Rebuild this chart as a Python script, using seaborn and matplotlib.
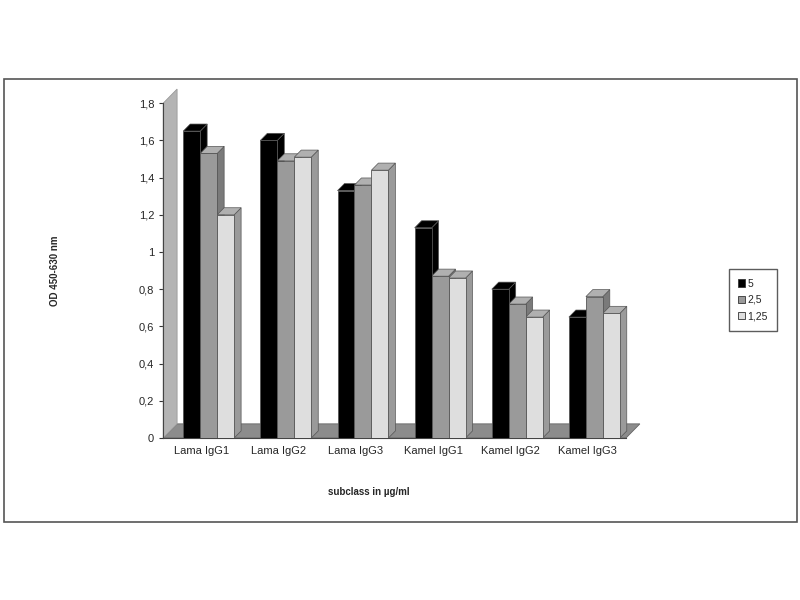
import pandas as pd
import matplotlib
matplotlib.use('Agg')
import matplotlib.pyplot as plt
import seaborn as sns
from matplotlib.patches import Polygon, Rectangle
from matplotlib.ticker import FuncFormatter

# Data
subclasses = ['Lama IgG1', 'Lama IgG2', 'Lama IgG3', 'Kamel IgG1', 'Kamel IgG2', 'Kamel IgG3']
concentrations = ['5', '2,5', '1,25']
od_5 = [1.65, 1.60, 1.33, 1.13, 0.80, 0.65]
od_2_5 = [1.53, 1.49, 1.36, 0.87, 0.72, 0.76]
od_1_25 = [1.20, 1.51, 1.44, 0.86, 0.65, 0.67]

colors = ['#000000', '#9a9a9a', '#dedede']
side_colors = ['#000000', '#7a7a7a', '#9a9a9a']

rows = []
for conc, vals in zip(concentrations, [od_5, od_2_5, od_1_25]):
    for s, v in zip(subclasses, vals):
        rows.append({'subclass': s, 'conc': conc, 'OD': v})
df = pd.DataFrame(rows)

sns.set_style('white')
plt.rcParams['font.family'] = ['Liberation Sans', 'DejaVu Sans']

fig = plt.figure(figsize=(8, 6), dpi=100)
ax = fig.add_axes([0.204, 0.27, 0.5785, 0.558])

sns.barplot(data=df, x='subclass', y='OD', hue='conc', palette=colors,
            width=0.66, edgecolor='#555555', linewidth=0.6, legend=False, ax=ax, zorder=3)

ax.set_ylim(0, 1.8)
ax.set_xlim(-0.5, 5.5)
dx, dy = 0.09, 0.038

# floor and back wall
floor = Polygon([(-0.5, 0), (5.5, 0), (5.5 + 2 * dx, 2 * dy), (-0.5 + 2 * dx, 2 * dy)],
                closed=True, facecolor='#8c8c8c', edgecolor='#666666', lw=0.6,
                clip_on=False, zorder=1)
ax.add_patch(floor)
wall = Polygon([(-0.5, 0), (-0.5 + 2 * dx, 2 * dy), (-0.5 + 2 * dx, 1.8 + 2 * dy), (-0.5, 1.8)],
               closed=True, facecolor='#b4b4b4', edgecolor='#999999', lw=0.6,
               clip_on=False, zorder=1)
ax.add_patch(wall)

# 3d side and top faces for each bar (bars sit a little back on the floor)
for i, cont in enumerate(ax.containers):
    for bar in cont:
        bar.set_x(bar.get_x() + dx)
        x0 = bar.get_x()
        w = bar.get_width()
        h = bar.get_height()
        side = Polygon([(x0 + w, 0), (x0 + w + dx, dy), (x0 + w + dx, h + dy), (x0 + w, h)],
                       closed=True, facecolor=side_colors[i], edgecolor='#555555', lw=0.5,
                       clip_on=False, zorder=2)
        top = Polygon([(x0, h), (x0 + dx, h + dy), (x0 + w + dx, h + dy), (x0 + w, h)],
                      closed=True, facecolor=side_colors[i] if i == 0 else '#b0b0b0',
                      edgecolor='#555555', lw=0.5, clip_on=False, zorder=2)
        ax.add_patch(side)
        ax.add_patch(top)

ax.set_yticks([0, 0.2, 0.4, 0.6, 0.8, 1, 1.2, 1.4, 1.6, 1.8])
ax.yaxis.set_major_formatter(FuncFormatter(lambda v, p: ('%g' % round(v, 1)).replace('.', ',')))
ax.set_xticks([-0.5, 0.5, 1.5, 2.5, 3.5, 4.5, 5.5], minor=True)
ax.tick_params(axis='x', which='major', length=0, labelsize=8, pad=6)
ax.tick_params(axis='x', which='minor', length=3, direction='out', color='#333333')
ax.tick_params(axis='y', length=3, direction='out', labelsize=8, color='#333333', left=True)

for sp in ['top', 'right']:
    ax.spines[sp].set_visible(False)
for sp in ['left', 'bottom']:
    ax.spines[sp].set_color('#444444')
    ax.spines[sp].set_linewidth(0.8)

ax.set_xlabel('subclass in µg/ml', fontsize=7, fontweight='bold')
ax.xaxis.set_label_coords(0.445, -0.146)
ax.set_ylabel('OD 450-630 nm', fontsize=7, fontweight='bold', labelpad=0)
ax.yaxis.set_label_coords(-0.222, 0.5)

handles = [Rectangle((0, 0), 1, 1, facecolor=c, edgecolor='#333333', lw=0.6) for c in colors]
fig.legend(handles, concentrations, loc='center', bbox_to_anchor=(0.941, 0.5),
           fontsize=7.5, frameon=True, fancybox=False, edgecolor='#333333',
           handlelength=0.7, handleheight=0.7, handletextpad=0.2, borderpad=0.9,
           labelspacing=0.6)

# outer chart border
fig.patches.append(Rectangle((0.005, 0.13), 0.991, 0.738, transform=fig.transFigure,
                             fill=False, edgecolor='#555555', lw=1.2))

fig.savefig('out.png', dpi=100)
